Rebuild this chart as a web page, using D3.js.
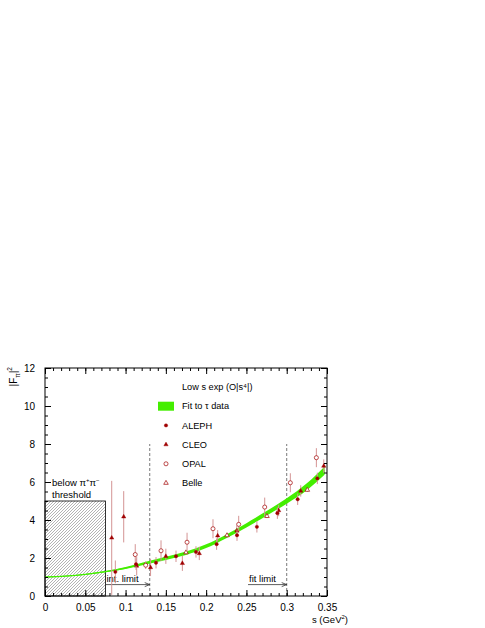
<!DOCTYPE html>
<html>
<head>
<meta charset="utf-8">
<script src="https://cdn.jsdelivr.net/npm/d3@7"></script>
<style>
  body { margin: 0; background: #fff; }
  svg { font-family: "Liberation Sans", Arial, sans-serif; }
</style>
</head>
<body>
<svg width="485" height="628"></svg>
<script>
"use strict"

// fit band: s, centre, half width
const fitS    = [0, 0.025, 0.05, 0.075, 0.1, 0.125, 0.15, 0.175, 0.2, 0.225, 0.25, 0.275, 0.3, 0.325, 0.347];
const fitV    = [1.0, 1.05, 1.14, 1.28, 1.47, 1.73, 1.98, 2.25, 2.62, 3.14, 3.72, 4.35, 5.0, 5.75, 6.6];
const fitErr  = [0.02, 0.02, 0.02, 0.03, 0.05, 0.07, 0.08, 0.09, 0.1, 0.1, 0.11, 0.12, 0.14, 0.18, 0.22];

// ALEPH
const alephS = [0.0873, 0.113, 0.1378, 0.1626, 0.1874, 0.213, 0.2383, 0.263, 0.2884, 0.3136, 0.338];
const alephV = [1.27, 1.67, 1.75, 2.09, 2.32, 2.73, 3.2, 3.64, 4.36, 5.09, 6.19];
const alephE = [0.6, 0.3, 0.3, 0.3, 0.3, 0.3, 0.3, 0.3, 0.3, 0.3, 0.3];
// CLEO
const cleoS = [0.0828, 0.0977, 0.1138, 0.131, 0.150, 0.1705, 0.1915, 0.2143, 0.238, 0.29, 0.3174, 0.346];
const cleoV = [3.06, 4.17, 1.58, 1.50, 2.09, 1.72, 2.24, 3.17, 3.43, 4.5, 5.53, 6.84];
const cleoE = [3.0, 1.35, 0.5, 0.45, 0.4, 0.4, 0.35, 0.3, 0.3, 0.3, 0.3, 0.35];
// OPAL
const opalS = [0.112, 0.125, 0.144, 0.1763, 0.2085, 0.2404, 0.2727, 0.3045, 0.3368];
const opalV = [2.18, 1.62, 2.38, 2.83, 3.54, 3.77, 4.68, 5.96, 7.28];
const opalE = [0.55, 0.2, 0.55, 0.5, 0.5, 0.45, 0.5, 0.5, 0.5];
// Belle
const belleS = [0.175, 0.2259, 0.2755, 0.3256];
const belleV = [2.29, 3.19, 4.2, 5.58];
const belleE = [0.1, 0.1, 0.1, 0.1];

const xTicks = [0, 0.05, 0.1, 0.15, 0.2, 0.25, 0.3, 0.35];
const xTickLabels = ["0", "0.05", "0.1", "0.15", "0.2", "0.25", "0.3", "0.35"];
const yTicks = [0, 2, 4, 6, 8, 10, 12];

const legendNames = ["Low s exp (O|s⁴|)", "Fit to τ data", "ALEPH", "CLEO", "OPAL", "Belle"];

const markColor = "#a00000";
const errColor = "#d49494";
const green = "#44ee00";

const area = { left: 45, right: 327, top: 368, bottom: 596 };

const svg = d3.select("svg");

const scX = d3.scaleLinear().domain([0, 0.35]).range([area.left, area.right]);
const scY = d3.scaleLinear().domain([0, 12]).range([area.bottom, area.top]);

// hatched region below threshold
const defs = svg.append("defs");
defs.append("pattern")
    .attr("id", "hatch")
    .attr("patternUnits", "userSpaceOnUse")
    .attr("width", 3).attr("height", 3)
    .append("path")
    .attr("d", "M-1,1 l2,-2 M0,3 l3,-3 M2,4 l2,-2")
    .style("stroke", "#666")
    .style("stroke-width", 0.5);

svg.append("rect")
    .attr("x", scX(0))
    .attr("y", scY(5))
    .attr("width", scX(0.075) - scX(0))
    .attr("height", scY(0) - scY(5))
    .style("fill", "url(#hatch)")
    .style("stroke", "#000")
    .style("stroke-width", 0.8);

const thr = svg.append("text").attr("x", 52).attr("y", 486).style("font-size", "9.5px");
thr.append("tspan").text("below π");
thr.append("tspan").attr("dy", -4).style("font-size", "6px").text("+");
thr.append("tspan").attr("dy", 4).text("π");
thr.append("tspan").attr("dy", -4).style("font-size", "6px").text("−");
svg.append("text").attr("x", 52).attr("y", 498).style("font-size", "9.5px").text("threshold");

// dashed limits
[0.13, 0.3].forEach(s => {
    svg.append("line")
        .attr("x1", scX(s)).attr("x2", scX(s))
        .attr("y1", scY(0)).attr("y2", scY(8))
        .style("stroke", "#555")
        .style("stroke-dasharray", "3,2")
        .style("stroke-width", 0.8);
});

// arrows with labels
function drawArrow(s0, s1, v, label) {
    const y = scY(v);
    svg.append("line")
        .attr("x1", scX(s0)).attr("x2", scX(s1))
        .attr("y1", y).attr("y2", y)
        .style("stroke", "#333").style("stroke-width", 0.8);
    svg.append("path")
        .attr("d", `M${scX(s1) - 5},${y - 2} L${scX(s1)},${y} L${scX(s1) - 5},${y + 2}`)
        .style("fill", "none").style("stroke", "#333").style("stroke-width", 0.8);
    svg.append("text")
        .attr("x", scX(s0) + 1).attr("y", y - 2.5)
        .style("font-size", "9.5px")
        .text(label);
}
drawArrow(0.075, 0.13, 0.6, "int. limit");
drawArrow(0.252, 0.3, 0.6, "fit limit");

// fit band
const fitData = fitS.map((s, i) => ({ s: s, v: fitV[i], e: fitErr[i] }));
svg.append("path")
    .datum(fitData)
    .attr("d", d3.area()
        .x(d => scX(d.s))
        .y0(d => scY(d.v - d.e))
        .y1(d => scY(d.v + d.e))
        .curve(d3.curveMonotoneX))
    .style("fill", green);
svg.append("path")
    .datum(fitData)
    .attr("d", d3.line().x(d => scX(d.s)).y(d => scY(d.v)).curve(d3.curveMonotoneX))
    .style("fill", "none")
    .style("stroke", green)
    .style("stroke-width", 1.2);

// data points
function makeSet(sArr, vArr, eArr) {
    return sArr.map((s, i) => ({ s: s, v: vArr[i], e: eArr[i] }));
}

const symCircle = d3.symbol().type(d3.symbolCircle);
const symTriangle = d3.symbol().type(d3.symbolTriangle);

function drawSet(data, sym, size, filled) {
    const g = svg.append("g");
    g.selectAll("line")
        .data(data)
        .enter()
        .append("line")
        .attr("x1", d => scX(d.s)).attr("x2", d => scX(d.s))
        .attr("y1", d => scY(Math.max(0, d.v - d.e)))
        .attr("y2", d => scY(d.v + d.e))
        .style("stroke", errColor)
        .style("stroke-width", 1);
    g.selectAll("path")
        .data(data)
        .enter()
        .append("path")
        .attr("d", sym.size(size))
        .attr("transform", d => `translate(${scX(d.s)},${scY(d.v)})`)
        .style("fill", filled ? markColor : "#fff")
        .style("stroke", markColor)
        .style("stroke-width", filled ? 0.4 : 0.7);
}

drawSet(makeSet(belleS, belleV, belleE), symTriangle, 9, false);
drawSet(makeSet(opalS, opalV, opalE), symCircle, 13, false);
drawSet(makeSet(cleoS, cleoV, cleoE), symTriangle, 8, true);
drawSet(makeSet(alephS, alephV, alephE), symCircle, 9, true);

// frame and axes, ticks inward as in ROOT
const xMinor = d3.range(0, 0.3501, 0.01);
const yMinor = d3.range(0, 12.01, 0.5);

svg.append("g")
    .attr("transform", `translate(0,${area.bottom})`)
    .call(d3.axisBottom(scX).tickValues(xMinor).tickSize(-3).tickFormat(""))
    .call(g => g.select(".domain").remove());
svg.append("g")
    .attr("transform", `translate(0,${area.top})`)
    .call(d3.axisTop(scX).tickValues(xMinor).tickSize(-3).tickFormat(""))
    .call(g => g.select(".domain").remove());
svg.append("g")
    .attr("transform", `translate(${area.left},0)`)
    .call(d3.axisLeft(scY).tickValues(yMinor).tickSize(-3).tickFormat(""))
    .call(g => g.select(".domain").remove());
svg.append("g")
    .attr("transform", `translate(${area.right},0)`)
    .call(d3.axisRight(scY).tickValues(yMinor).tickSize(-3).tickFormat(""))
    .call(g => g.select(".domain").remove());

const axX = svg.append("g")
    .attr("transform", `translate(0,${area.bottom})`)
    .call(d3.axisBottom(scX).tickValues(xTicks).tickSizeInner(-6).tickSizeOuter(0)
        .tickPadding(8).tickFormat((d, i) => xTickLabels[i]));
axX.select(".domain").remove();
svg.append("g")
    .attr("transform", `translate(0,${area.top})`)
    .call(d3.axisTop(scX).tickValues(xTicks).tickSize(-6).tickFormat(""))
    .call(g => g.select(".domain").remove());

const axY = svg.append("g")
    .attr("transform", `translate(${area.left},0)`)
    .call(d3.axisLeft(scY).tickValues(yTicks).tickSizeInner(-6).tickSizeOuter(0)
        .tickPadding(10).tickFormat(d3.format("d")));
axY.select(".domain").remove();
svg.append("g")
    .attr("transform", `translate(${area.right},0)`)
    .call(d3.axisRight(scY).tickValues(yTicks).tickSize(-6).tickFormat(""))
    .call(g => g.select(".domain").remove());

svg.selectAll(".tick text")
    .style("font-family", "Liberation Sans, Arial, sans-serif")
    .style("font-size", "10px")
    .style("fill", "#000");

svg.append("rect")
    .attr("x", area.left).attr("y", area.top)
    .attr("width", area.right - area.left)
    .attr("height", area.bottom - area.top)
    .style("fill", "none")
    .style("stroke", "#000")
    .style("stroke-width", 1);

// axis titles
const xt = svg.append("text")
    .attr("x", 348).attr("y", 623)
    .style("text-anchor", "end")
    .style("font-size", "9.5px");
xt.append("tspan").text("s (GeV");
xt.append("tspan").attr("dy", -4).style("font-size", "6px").text("2");
xt.append("tspan").attr("dy", 4).text(")");

const yt = svg.append("text")
    .attr("transform", "translate(17,367) rotate(-90)")
    .style("text-anchor", "end")
    .style("font-size", "10px");
yt.append("tspan").text("|F");
yt.append("tspan").attr("dy", 3).style("font-size", "6.5px").text("π");
yt.append("tspan").attr("dy", -3).text("|");
yt.append("tspan").attr("dy", -5).style("font-size", "6.5px").text("2");

// legend
const legX = 166, legTextX = 182, legY0 = 387, legStep = 19.2;
legendNames.forEach((name, i) => {
    svg.append("text")
        .attr("x", legTextX)
        .attr("y", legY0 + i * legStep)
        .attr("dy", "0.35em")
        .style("font-size", "9.2px")
        .text(name);
});
svg.append("rect")
    .attr("x", 158).attr("y", legY0 + legStep - 4.5)
    .attr("width", 16).attr("height", 9)
    .style("fill", green);
const legSyms = [
    { sym: symCircle, size: 9, filled: true },
    { sym: symTriangle, size: 8, filled: true },
    { sym: symCircle, size: 13, filled: false },
    { sym: symTriangle, size: 9, filled: false }
];
legSyms.forEach((d, i) => {
    svg.append("path")
        .attr("d", d.sym.size(d.size))
        .attr("transform", `translate(${legX},${legY0 + (i + 2) * legStep})`)
        .style("fill", d.filled ? markColor : "#fff")
        .style("stroke", markColor)
        .style("stroke-width", d.filled ? 0.4 : 0.7);
});
</script>
</body>
</html>
